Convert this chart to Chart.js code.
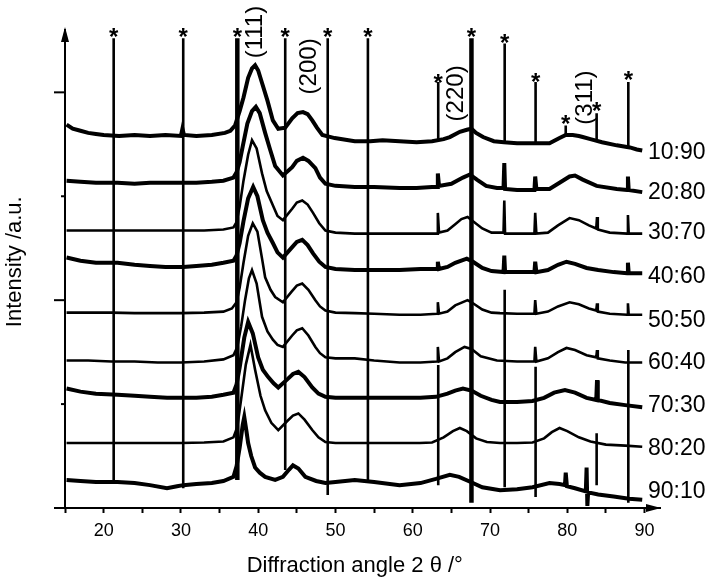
<!DOCTYPE html>
<html>
<head>
<meta charset="utf-8">
<script src="https://cdn.jsdelivr.net/npm/chart.js@4.4.0/dist/chart.umd.min.js"></script>
<style>
  html, body { margin: 0; padding: 0; background: #fff; }
  #wrap { width: 712px; height: 582px; }
</style>
</head>
<body>
<div id="wrap"><canvas id="xrd" width="712" height="582"></canvas></div>
<script>
const FONT = "'Liberation Sans', Arial, sans-serif";

// axis ticks
const thetaTicks = [15, 20, 25, 30, 35, 40, 45, 50, 55, 60, 65, 70, 75, 80, 85, 90];
const intensityTicks = [0, 10, 20, 30, 40];

// sample ratios, top to bottom
const ratios = ['10:90', '20:80', '30:70', '40:60', '50:50', '60:40', '70:30', '80:20', '90:10'];
const ratioLevels = [34.3, 30.4, 26.6, 22.4, 18.1, 14.1, 9.9, 5.8, 1.7];

// [2theta, intensity] (stacked, a.u.)
const s1090 = [[15.2,36.9],[16,36.5],[17,36.3],[18,36.1],[19,36.0],[20,35.9],[22,35.8],[24,35.9],[26,35.8],[28,35.9],[30,35.8],[30.2,36.5],[30.4,35.9],[32,35.8],[34,35.9],[35.7,36.1],[36.4,36.3],[37.0,36.8],[37.6,38.2],[38.1,39.5],[38.7,41.4],[39.2,42.3],[39.6,42.6],[40.0,42.1],[40.5,40.9],[41.2,39.2],[41.9,37.3],[42.6,36.5],[43.5,36.6],[44.4,37.5],[45.1,38.0],[45.8,38.1],[46.4,37.9],[47.0,37.3],[47.6,36.6],[48.3,35.9],[49.9,35.6],[52.5,35.3],[54.5,35.3],[56.1,35.4],[58.3,35.3],[60.5,35.2],[62.5,35.3],[64.0,35.5],[64.8,35.7],[66.1,36.2],[67.0,36.4],[67.6,36.5],[68.2,36.1],[69.1,35.7],[70.5,35.3],[71.8,35.2],[73.5,35.1],[75.8,35.1],[77.7,35.1],[79.0,35.6],[79.8,35.9],[80.7,35.9],[81.5,35.8],[82.0,35.7],[83.0,35.5],[84.5,35.2],[86.4,34.9],[88.1,34.7],[89.0,34.5],[89.7,34.4]];
const s2080 = [[15.2,31.5],[17,31.4],[19,31.3],[21.8,31.3],[24,31.2],[26,31.3],[28,31.3],[30.3,31.3],[32,31.3],[34,31.4],[35.5,31.5],[36.8,31.8],[37.2,32.3],[37.6,33.3],[38.0,34.8],[38.6,37.0],[39.2,38.2],[39.7,38.6],[40.2,38.0],[40.9,36.1],[41.5,34.6],[42.2,32.9],[43.2,32.0],[44.4,32.8],[45.0,33.4],[45.8,33.7],[46.5,33.4],[47.4,32.7],[48.0,31.8],[48.7,31.2],[50,31.0],[52.5,30.9],[55,30.9],[58.3,30.8],[60.5,30.8],[62.5,30.9],[63.15,30.9],[63.25,32.2],[63.4,31.0],[65,31.2],[66.5,31.8],[67.4,32.1],[68.3,31.6],[69.5,31.0],[70.9,30.8],[71.75,30.8],[71.85,33.2],[71.95,30.7],[73.5,30.6],[75.75,30.6],[75.85,31.9],[76.0,30.7],[77.7,30.7],[79.0,31.3],[80.3,31.9],[81.0,32.0],[82.0,31.6],[83.8,31.0],[86.4,30.7],[87.75,30.6],[87.85,31.9],[87.95,30.6],[89.7,30.4]];
const s3070 = [[15.2,26.7],[18,26.7],[21,26.7],[24,26.7],[27,26.7],[30,26.7],[33,26.7],[35.5,26.8],[36.8,27.0],[37.2,27.5],[37.6,29.0],[38.1,31.5],[38.7,34.0],[39.2,35.4],[39.8,34.6],[40.5,32.2],[41.1,30.5],[41.8,29.3],[42.5,28.1],[43.2,27.7],[44.4,28.8],[45.0,29.4],[45.7,29.6],[46.4,29.2],[47.1,28.4],[47.9,27.4],[48.7,26.7],[50,26.5],[52.5,26.4],[55,26.4],[58.3,26.4],[61,26.4],[63.15,26.4],[63.25,28.4],[63.4,26.5],[64.5,26.7],[65.5,27.3],[66.3,27.8],[67.1,28.0],[67.8,27.6],[69.0,26.9],[70.2,26.5],[71.75,26.5],[71.85,29.6],[71.95,26.4],[73.5,26.4],[75.75,26.4],[75.85,28.4],[76.0,26.4],[77.5,26.5],[78.8,27.2],[80.3,27.9],[81.5,27.7],[82.8,27.2],[83.75,26.9],[83.85,28.0],[83.95,26.8],[85.5,26.5],[87.75,26.4],[87.85,28.2],[87.95,26.4],[89.7,26.4]];
const s4060 = [[15.2,24.1],[17,23.8],[19,23.6],[21.8,23.6],[24,23.4],[26,23.3],[28,23.2],[30.3,23.2],[32,23.3],[34,23.4],[35.5,23.6],[36.8,23.8],[37.2,24.3],[37.6,25.5],[38.1,27.6],[38.7,29.8],[39.35,30.9],[39.9,30.0],[40.6,27.7],[41.2,26.5],[41.9,25.5],[42.5,24.6],[43.2,24.1],[44.4,25.1],[45.0,25.6],[45.7,25.8],[46.4,25.3],[47.1,24.5],[47.9,23.7],[48.7,23.2],[50,23.0],[52.5,22.9],[55,22.9],[58.3,22.9],[61,23.0],[63.15,23.0],[63.25,23.7],[63.4,23.0],[64.5,23.2],[65.5,23.6],[67.0,24.0],[67.8,23.7],[69.0,23.1],[70.2,22.8],[71.75,22.7],[71.85,24.3],[71.95,22.7],[73.5,22.7],[75.75,22.7],[75.85,23.7],[76.0,22.7],[77.5,22.9],[78.8,23.4],[79.9,23.7],[81.0,23.5],[82.5,23.1],[84.0,22.9],[86,22.7],[87.75,22.6],[87.85,23.6],[87.95,22.6],[89.7,22.6]];
const s5050 = [[15.2,18.8],[18,18.8],[21,18.8],[24,18.75],[27,18.75],[30,18.75],[33,18.8],[35.5,18.9],[36.6,19.2],[37.2,19.8],[37.6,21.2],[38.1,23.6],[38.7,26.2],[39.3,27.4],[39.9,26.6],[40.5,24.0],[40.9,22.2],[41.6,21.0],[42.2,20.3],[43.2,19.8],[44.3,20.8],[45.0,21.4],[45.7,21.6],[46.5,21.0],[47.4,20.0],[48.0,19.4],[48.7,19.0],[50,18.8],[52.5,18.75],[55,18.7],[58.3,18.6],[61,18.6],[63.15,18.7],[63.25,19.8],[63.4,18.7],[64.5,18.9],[65.5,19.5],[67.1,20.0],[67.8,19.7],[69.0,19.1],[70.2,18.8],[71.3,18.75],[73.5,18.7],[75.75,18.7],[75.85,20.0],[76.0,18.7],[77.5,18.9],[78.8,19.4],[80.3,19.8],[81.5,19.6],[82.8,19.2],[83.75,19.0],[83.85,19.7],[83.95,18.9],[85.5,18.7],[87.75,18.6],[87.85,19.7],[87.95,18.6],[89.7,18.6]];
const s6040 = [[15.2,14.2],[18,14.2],[21,14.1],[24,14.1],[27,14.0],[30,14.0],[33,14.1],[35.5,14.3],[36.8,14.7],[37.3,15.5],[37.8,17.5],[38.3,20.0],[38.8,22.1],[39.2,22.9],[39.8,21.6],[40.5,18.4],[41.2,17.0],[41.9,16.2],[42.5,15.7],[43.2,15.5],[44.4,16.6],[45.0,17.1],[45.7,17.3],[46.5,16.6],[47.4,15.5],[48.0,14.9],[48.7,14.5],[50,14.4],[52.5,14.4],[55,14.2],[58.3,14.0],[61,14.0],[63.15,14.1],[63.25,15.5],[63.4,14.1],[64.5,14.4],[65.5,15.0],[66.7,15.5],[67.6,15.3],[68.8,14.6],[70.9,14.2],[73.5,14.1],[75.75,14.1],[75.85,15.5],[76.0,14.1],[77.5,14.4],[78.8,15.0],[79.9,15.4],[81.0,15.2],[82.5,14.7],[83.75,14.5],[83.85,15.2],[83.95,14.4],[85.5,14.2],[87.5,14.0],[89.7,14.0]];
const s7030 = [[15.2,11.5],[17,11.2],[19,11.0],[21.8,10.9],[24,10.8],[26,10.7],[28.2,10.6],[30.3,10.6],[32,10.6],[34,10.7],[35.5,10.9],[36.8,11.1],[37.2,11.9],[37.6,13.5],[38.2,16.4],[38.7,17.9],[39.3,16.8],[40.0,14.5],[40.6,13.3],[41.3,12.6],[42.0,12.0],[42.6,11.6],[43.8,12.4],[44.5,12.9],[45.2,13.1],[46.0,12.6],[47.0,11.6],[47.8,11.0],[48.7,10.7],[50,10.6],[52.5,10.6],[55,10.6],[58.3,10.6],[61,10.6],[63.0,10.7],[64.5,11.0],[65.5,11.3],[66.5,11.5],[67.6,11.3],[68.8,10.8],[70.2,10.4],[71.3,10.2],[73.5,10.2],[75.5,10.3],[77.0,10.6],[78.3,11.1],[79.7,11.35],[81.0,11.1],[82.5,10.6],[83.75,10.4],[83.85,12.3],[83.95,10.4],[85.5,10.1],[87.5,9.9],[89.7,9.7]];
const s8020 = [[15.2,6.25],[18,6.25],[21,6.25],[24,6.25],[27,6.25],[30,6.25],[33,6.3],[35.5,6.4],[36.8,6.8],[37.3,7.8],[37.8,10.5],[38.4,13.8],[39.0,15.7],[39.6,13.3],[40.3,10.8],[40.9,9.4],[41.7,8.2],[42.6,7.5],[43.8,8.4],[44.5,8.9],[45.2,9.1],[46.0,8.5],[47.0,7.5],[47.8,6.8],[48.7,6.35],[50,6.25],[52.5,6.25],[55,6.25],[58.3,6.25],[60.9,6.25],[62.5,6.3],[64.0,6.8],[65.2,7.4],[66.1,7.7],[67.0,7.4],[68.2,6.7],[69.6,6.35],[71.3,6.25],[73.5,6.25],[75.5,6.3],[77.0,6.7],[78.0,7.3],[79.0,7.7],[80.0,7.4],[81.5,6.8],[83.0,6.4],[85,6.1],[87.5,6.0],[89.7,5.9]];
const s9010 = [[15.2,2.7],[17,2.6],[19,2.5],[21.8,2.5],[24,2.4],[26,2.2],[28.2,1.9],[29.5,2.1],[30.3,2.2],[32,2.3],[34,2.4],[35.5,2.6],[36.8,3.0],[37.2,4.0],[37.6,5.8],[38.0,8.0],[38.2,8.75],[38.5,7.3],[38.7,6.25],[39.1,5.0],[39.6,3.9],[40.2,3.4],[40.9,3.0],[42.2,2.7],[43.2,3.0],[44.0,3.7],[44.5,4.1],[45.2,3.8],[46.1,3.0],[47.5,2.6],[48.7,2.4],[50,2.5],[52.5,2.7],[55,2.5],[58.3,2.2],[61,2.4],[63,2.8],[64.8,3.2],[66.0,3.0],[67.5,2.5],[69.0,2.0],[71.3,1.7],[73.5,1.8],[75.5,2.0],[77.7,2.4],[79.0,2.3],[79.7,2.2],[79.8,3.4],[79.95,2.1],[81,1.9],[82.4,1.6],[82.5,3.9],[82.6,0.2],[82.7,1.5],[84,1.3],[86,1.1],[88,0.9],[89.7,0.8]];
const spectra = [s1090, s2080, s3070, s4060, s5050, s6040, s7030, s8020, s9010];
const noisy = [true, true, false, true, false, false, true, false, true];

// reference reflections (*): [2theta, from, to]
const refLines = [[21.3,2.5,45.2],[30.3,1.9,45.2],[43.5,3.65,45.2],[49.0,1.25,45.2],[54.2,2.7,45.2],
  [63.3,35.4,41.0],[63.3,2.2,13.75],[71.9,35.2,44.7],[71.9,2.0,21.0],[75.9,35.1,41.0],[75.9,1.05,13.6],
  [79.8,35.7,36.8],[83.8,35.3,38.0],[83.8,2.2,7.2],[87.9,34.7,41.0],[87.9,0.5,15.2]];
const strongRefLines = [[37.3,2.7,45.2],[67.6,0.5,45.2]];
const stars = [[21.3,45.9],[30.3,45.9],[37.3,45.9],[43.5,45.9],[49.0,45.9],[54.2,45.9],[63.3,41.4],[67.6,45.9],[71.9,45.3],[75.9,41.5],[79.8,37.5],[83.8,38.7],[87.9,41.7]];

// Miller indices
const hkl = ['(111)', '(200)', '(220)', '(311)'];
const hklAt = [[39.7,45.8],[46.6,42.5],[65.6,39.9],[82.3,39.5]];

const toPts = arr => arr.map(p => ({ x: p[0], y: p[1] }));
const toSticks = segs => {
    const out = [];
    segs.forEach(s => {
        out.push({ x: s[0], y: s[1] }, { x: s[0], y: s[2] }, { x: s[0], y: null });
    });
    return out;
};

const datasets = spectra.map((arr, i) => ({
    label: ratios[i],
    data: toPts(arr),
    borderColor: '#000',
    borderWidth: noisy[i] ? 4 : 2.6,
    pointRadius: 0,
    showLine: true,
    tension: 0
}));
datasets.push({ label: 'ref', data: toSticks(refLines), borderColor: '#000', borderWidth: 2.6, pointRadius: 0, showLine: true, spanGaps: false });
datasets.push({ label: 'ref strong', data: toSticks(strongRefLines), borderColor: '#000', borderWidth: 4.5, pointRadius: 0, showLine: true, spanGaps: false });

const decor = {
    id: 'decor',
    afterDraw(chart) {
        const { ctx, scales: { x, y } } = chart;
        ctx.save();
        ctx.fillStyle = '#000';
        ctx.strokeStyle = '#000';

        // y ticks, long and short
        ctx.lineWidth = 2;
        intensityTicks.forEach((v, i) => {
            const py = y.getPixelForValue(v);
            const len = i % 2 === 0 ? 11 : 4;
            ctx.beginPath();
            ctx.moveTo(x.left - len, py);
            ctx.lineTo(x.left, py);
            ctx.stroke();
        });

        // arrow heads
        ctx.beginPath();
        ctx.moveTo(x.left, y.top - 3);
        ctx.lineTo(x.left - 4, y.top + 12);
        ctx.lineTo(x.left + 4, y.top + 12);
        ctx.closePath();
        ctx.fill();
        ctx.beginPath();
        ctx.moveTo(x.right + 1, y.bottom);
        ctx.lineTo(x.right - 14, y.bottom - 4);
        ctx.lineTo(x.right - 14, y.bottom + 4);
        ctx.closePath();
        ctx.fill();

        // asterisks
        ctx.font = 'bold 24px ' + FONT;
        ctx.textAlign = 'center';
        ctx.textBaseline = 'alphabetic';
        stars.forEach(s => {
            ctx.fillText('*', x.getPixelForValue(s[0]), y.getPixelForValue(s[1]) + 13.5);
        });

        // hkl labels
        ctx.font = '24px ' + FONT;
        ctx.textBaseline = 'middle';
        hkl.forEach((t, i) => {
            ctx.save();
            ctx.translate(x.getPixelForValue(hklAt[i][0]), y.getPixelForValue(hklAt[i][1]));
            ctx.rotate(-Math.PI / 2);
            ctx.fillText(t, 0, 0);
            ctx.restore();
        });

        // ratio labels
        ctx.font = '23px ' + FONT;
        ctx.textAlign = 'left';
        ratios.forEach((t, i) => {
            ctx.fillText(t, x.getPixelForValue(90.45), y.getPixelForValue(ratioLevels[i]) + 1);
        });

        // axis titles
        ctx.font = '22px ' + FONT;
        ctx.textAlign = 'center';
        ctx.fillText('Diffraction angle 2 \u03b8 /\u00b0', x.getPixelForValue(52.5), 566);
        ctx.save();
        ctx.translate(15, y.getPixelForValue(23.7));
        ctx.rotate(-Math.PI / 2);
        ctx.fillText('Intensity /a.u.', 0, 0);
        ctx.restore();

        ctx.restore();
    }
};

new Chart(document.getElementById('xrd'), {
    type: 'scatter',
    data: { datasets },
    options: {
        responsive: false,
        devicePixelRatio: 1,
        animation: false,
        layout: { padding: { top: 30, right: 52, bottom: 0, left: 0 } },
        plugins: { legend: { display: false }, tooltip: { enabled: false } },
        scales: {
            x: {
                type: 'linear',
                min: 15,
                max: 92,
                afterFit: s => { s.height = 74; },
                afterBuildTicks: s => { s.ticks = thetaTicks.map(v => ({ value: v })); },
                ticks: {
                    autoSkip: false,
                    maxRotation: 0,
                    color: '#000',
                    padding: 7,
                    font: { family: FONT, size: 18 },
                    callback: v => (v % 10 === 0 ? String(v) : '')
                },
                grid: { display: true, drawOnChartArea: false, drawTicks: true, tickLength: 5, tickColor: '#000', tickWidth: 2 },
                border: { display: true, color: '#000', width: 2 }
            },
            y: {
                type: 'linear',
                min: 0,
                max: 46,
                afterFit: s => { s.width = 65; },
                ticks: { display: false },
                grid: { display: false },
                border: { display: true, color: '#000', width: 2 }
            }
        }
    },
    plugins: [decor]
});
</script>
</body>
</html>
